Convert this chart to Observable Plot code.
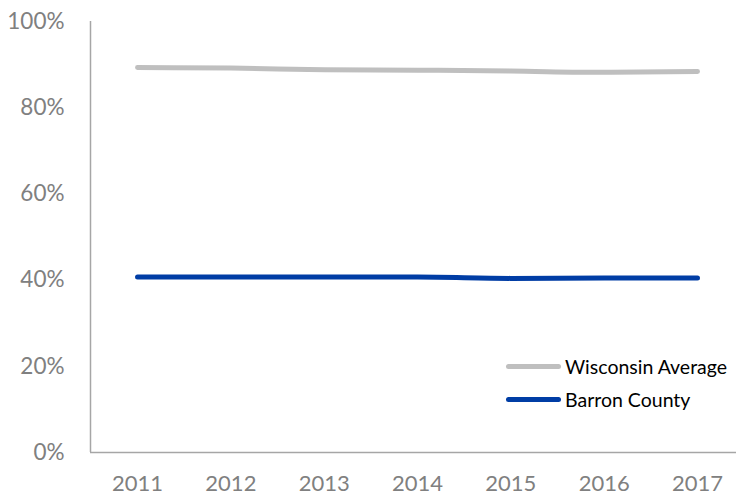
<!DOCTYPE html>
<html>
<head>
<meta charset="utf-8">
<script src="https://cdn.jsdelivr.net/npm/d3@7"></script>
<script src="https://cdn.jsdelivr.net/npm/@observablehq/plot@0.6"></script>
<style>
  html, body { margin: 0; padding: 0; background: #fff; }
  #wrap { position: relative; width: 736px; height: 496px; font-family: Lato, "Open Sans", sans-serif; }
  #legend { position: absolute; left: 506px; top: 350px; font-size: 19.5px; color: #000; }
  .item { display: flex; align-items: center; height: 33px; }
  .swatch { width: 55px; height: 5px; border-radius: 3px; margin-right: 4px; }
</style>
</head>
<body>
<div id="wrap">
  <div id="chart"></div>
  <div id="legend"></div>
</div>
<script>
const years = [2011, 2012, 2013, 2014, 2015, 2016, 2017];
const wisconsin = [89.3, 89.2, 88.8, 88.7, 88.5, 88.2, 88.4];
const barron = [40.7, 40.7, 40.7, 40.7, 40.4, 40.5, 40.5];
const seriesNames = ["Wisconsin Average", "Barron County"];
const seriesColors = ["#bfbfbf", "#003da5"];
const yTicks = [0, 20, 40, 60, 80, 100];

const rows = [];
years.forEach((y, i) => {
  rows.push({year: y, value: wisconsin[i], series: seriesNames[0]});
  rows.push({year: y, value: barron[i], series: seriesNames[1]});
});

const chart = Plot.plot({
  width: 736,
  height: 496,
  marginLeft: 90,
  marginRight: 0,
  marginTop: 21,
  marginBottom: 44,
  style: {fontFamily: "Lato, 'Open Sans', sans-serif", background: "#fff"},
  x: {domain: [2010.496, 2017.418]},
  y: {domain: [0, 100]},
  color: {domain: seriesNames, range: seriesColors},
  marks: [
    Plot.axisY({ticks: yTicks, tickFormat: d => d + "%", tickSize: 0, tickPadding: 26, fontSize: 22.5, fill: "#808080", label: null}),
    Plot.axisX({ticks: years, tickFormat: d => String(d), tickSize: 0, tickPadding: 23, fontSize: 22, fill: "#808080", label: null}),
    Plot.ruleX([2010.496], {stroke: "#a6a6a6", strokeWidth: 1.5}),
    Plot.ruleY([0], {stroke: "#a6a6a6", strokeWidth: 1.5}),
    Plot.line(rows, {x: "year", y: "value", z: "series", stroke: "series", strokeWidth: 5, strokeLinecap: "round", strokeLinejoin: "round", curve: "monotone-x"})
  ]
});
document.getElementById("chart").appendChild(chart);

const legend = document.getElementById("legend");
seriesNames.forEach((name, i) => {
  const item = document.createElement("div");
  item.className = "item";
  const sw = document.createElement("div");
  sw.className = "swatch";
  sw.style.background = seriesColors[i];
  const label = document.createElement("span");
  label.textContent = name;
  item.appendChild(sw);
  item.appendChild(label);
  legend.appendChild(item);
});
</script>
</body>
</html>
